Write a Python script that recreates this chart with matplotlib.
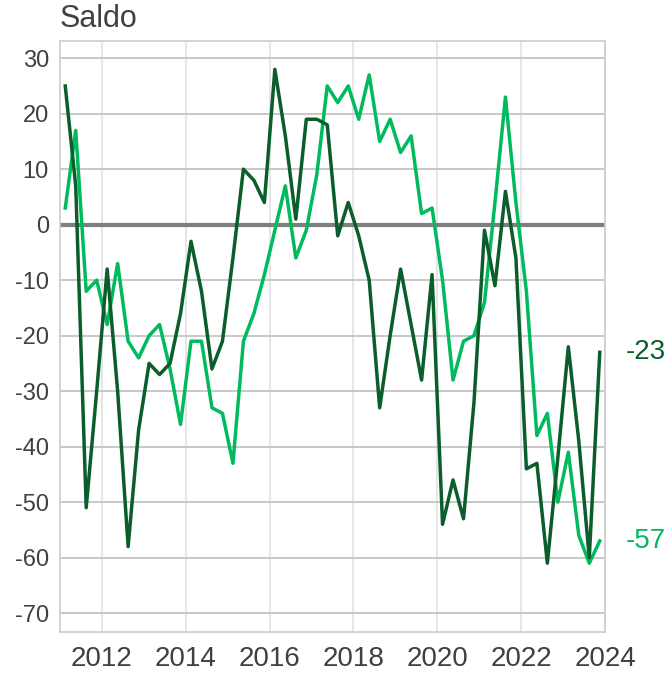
#!/usr/bin/env python3
import numpy as np
import matplotlib
matplotlib.use('Agg')
import matplotlib.pyplot as plt

# quarterly balances, 2011Q1 .. 2023Q4
quarters = [f'{y}Q{q}' for y in range(2011, 2024) for q in range(1, 5)]

saldo_dark = [25, 7, -51, -30, -8, -30, -58, -37, -25, -27,
              -25, -16, -3, -12, -26, -21, -6, 10, 8, 4,
              28, 16, 1, 19, 19, 18, -2, 4, -2, -10,
              -33, -20, -8, -18, -28, -9, -54, -46, -53, -32,
              -1, -11, 6, -6, -44, -43, -61, -42, -22, -39,
              -60, -23]

saldo_light = [3, 17, -12, -10, -18, -7, -21, -24, -20, -18,
               -26, -36, -21, -21, -33, -34, -43, -21, -16, -9,
               -1, 7, -6, -1, 9, 25, 22, 25, 19, 27,
               15, 19, 13, 16, 2, 3, -10, -28, -21, -20,
               -14, 4, 23, 4, -12, -38, -34, -50, -41, -56,
               -61, -57]

y_ticks = list(range(-70, 31, 10))
x_ticks = list(range(2012, 2025, 2))

DARK = '#0b5e2c'
LIGHT = '#00bb5e'
TEXT = '#404040'


def quarter_to_x(q):
    year = int(q[:4])
    n = int(q[-1])
    return year + (n - 0.5) / 4


def main():
    plt.rcParams['font.family'] = ['Liberation Sans', 'DejaVu Sans']
    plt.rcParams['axes.unicode_minus'] = False

    x = np.array([quarter_to_x(q) for q in quarters])

    fig = plt.figure(figsize=(6.67, 6.74), dpi=100)
    ax = fig.add_axes([60 / 667, 42 / 674, 545 / 667, 591 / 674])

    for yv in y_ticks:
        if yv != 0:
            ax.axhline(yv, color='#c4c4c4', lw=1.3, zorder=1)
    for xv in x_ticks:
        ax.axvline(xv, color='#e2e2e2', lw=1.2, zorder=0)
    ax.axhline(0, color='#7f7f7f', lw=3, zorder=2)

    ax.plot(x, saldo_light, color=LIGHT, lw=2.5, zorder=3)
    ax.plot(x, saldo_dark, color=DARK, lw=2.5, zorder=4)

    ax.set_xlim(2011, 2024)
    ax.set_ylim(-73.4, 33.1)
    ax.set_yticks(y_ticks)
    ax.set_xticks(x_ticks)
    ax.tick_params(length=0, colors=TEXT)
    ax.tick_params(axis='y', labelsize=17, pad=8)
    ax.tick_params(axis='x', labelsize=20, pad=10)
    for s in ax.spines.values():
        s.set_color('#cccccc')
        s.set_linewidth(1.2)

    ax.text(0.0, 1.012, 'Saldo', transform=ax.transAxes, fontsize=22,
            color=TEXT, ha='left', va='bottom')

    ax.annotate(f'{saldo_dark[-1]}', xy=(1, saldo_dark[-1]),
                xycoords=('axes fraction', 'data'), xytext=(15, 0),
                textcoords='offset points', color=DARK, fontsize=20,
                va='center', ha='left')
    ax.annotate(f'{saldo_light[-1]}', xy=(1, saldo_light[-1]),
                xycoords=('axes fraction', 'data'), xytext=(15, 0),
                textcoords='offset points', color=LIGHT, fontsize=20,
                va='center', ha='left')

    fig.savefig('out.png', dpi=100)


if __name__ == '__main__':
    main()
